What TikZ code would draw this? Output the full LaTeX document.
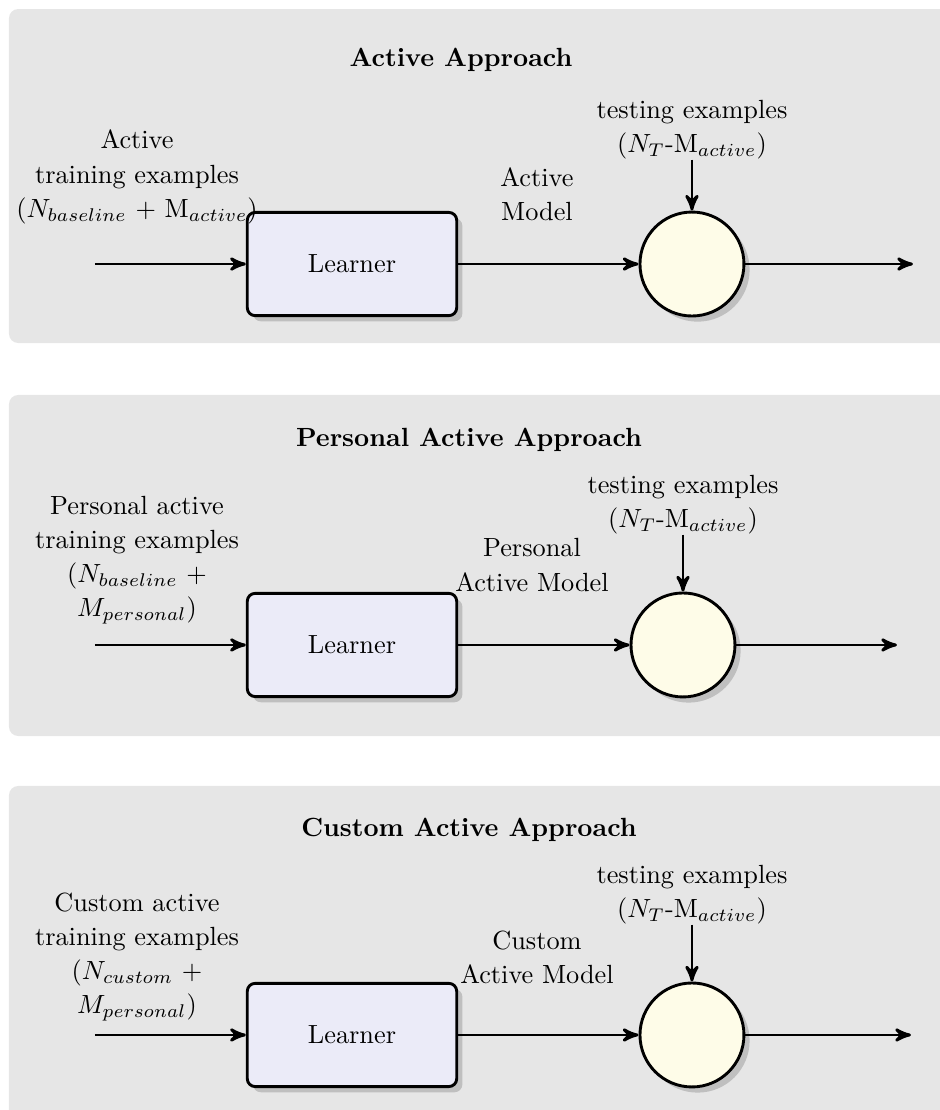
\documentclass[tikz,border=0pt]{standalone}
\usetikzlibrary{shapes,arrows,shadows,positioning}
\usepackage{xcolor}
\definecolor{panelgray}{RGB}{230,230,230}
\definecolor{learnerblue}{RGB}{235,235,248}
\definecolor{testyellow}{RGB}{254,252,232}

\begin{document}
\begin{tikzpicture}
            \tikzstyle{panel} = [fill=panelgray, rounded corners=3.5pt]
            \tikzstyle{learner} = [rectangle, rounded corners=3pt, line width=1.1pt, draw=black, fill=learnerblue, minimum width=2.8cm, minimum height=1.38cm, drop shadow={opacity=0.5, fill=black!40}]
            \tikzstyle{tester} = [circle, line width=1.1pt, draw=black, fill=testyellow, minimum size=1.39cm, drop shadow={opacity=0.5, fill=black!40}]
            \tikzstyle{flow} = [->, >=stealth', line width=1.1pt]
            \tikzstyle{caption} = [align=center, inner sep=0pt, font=\fontsize{10}{13}\selectfont]
            \tikzstyle{heading} = [font=\bfseries]
            \useasboundingbox (0, 0) rectangle (12.567, 14.840);
            % Active Approach
            \fill[panel] (0.12, 10.254) rectangle (13, 14.719);
            \node[heading] (title1) at (6.163, 14.043) {Active Approach};
            \node[learner] (lrn1) at (4.706, 11.310) {Learner};
            \node[tester] (test1) at (9.251, 11.310) {};
            \coordinate (in1) at (1.270, 11.310);
            \coordinate (out1) at (12.206, 11.310);
            \node[caption] (train1) at (1.832, 12.473) {Active\\training examples\\($N_{baseline}$ + M$_{active}$)};
            \node[caption] (model1) at (7.179, 12.246) {Active\\Model};
            \node[caption, above=0.68cm of test1] (eval1) {testing examples\\($N_T$-M$_{active}$)};
            \draw[flow] (in1) -- (lrn1);
            \draw[flow] (lrn1) -- (test1);
            \draw[flow] (eval1) -- (test1);
            \draw[flow] (test1) -- (out1);
            % Personal Active Approach
            \fill[panel] (0.12, 5.000) rectangle (13, 9.559);
            \node[heading] (title2) at (6.270, 8.965) {Personal Active Approach};
            \node[learner] (lrn2) at (4.706, 6.217) {Learner};
            \node[tester] (test2) at (9.131, 6.217) {};
            \coordinate (in2) at (1.270, 6.217);
            \coordinate (out2) at (11.992, 6.217);
            \node[caption] (train2) at (1.832, 7.353) {Personal active\\training examples\\($N_{baseline}$ +\\$M_{personal}$)};
            \node[caption] (model2) at (7.112, 7.286) {Personal\\Active Model};
            \node[caption, above=0.76cm of test2] (eval2) {testing examples\\($N_T$-M$_{active}$)};
            \draw[flow] (in2) -- (lrn2);
            \draw[flow] (lrn2) -- (test2);
            \draw[flow] (eval2) -- (test2);
            \draw[flow] (test2) -- (out2);
            % Custom Active Approach
            \fill[panel] (0.12, -0.3) rectangle (13, 4.332);
            \node[heading] (title3) at (6.270, 3.751) {Custom Active Approach};
            \node[learner] (lrn3) at (4.706, 1.003) {Learner};
            \node[tester] (test3) at (9.251, 1.003) {};
            \coordinate (in3) at (1.270, 1.003);
            \coordinate (out3) at (12.179, 1.003);
            \node[caption] (train3) at (1.832, 2.046) {Custom active\\training examples\\($N_{custom}$ +\\$M_{personal}$)};
            \node[caption] (model3) at (7.179, 2.039) {Custom\\Active Model};
            \node[caption, above=0.76cm of test3] (eval3) {testing examples\\($N_T$-M$_{active}$)};
            \draw[flow] (in3) -- (lrn3);
            \draw[flow] (lrn3) -- (test3);
            \draw[flow] (eval3) -- (test3);
            \draw[flow] (test3) -- (out3);
        \end{tikzpicture}
\end{document}
